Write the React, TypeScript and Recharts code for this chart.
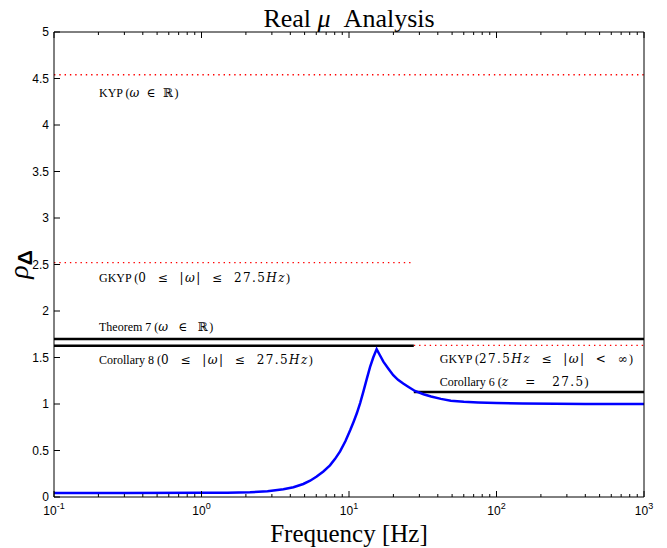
import React from 'react';
import { LineChart, Line, XAxis, YAxis, ReferenceLine } from 'recharts';

// blue curve: real mu upper bound vs frequency
const freqHz = [0.1, 0.3, 1, 1.5, 2.13, 2.8, 3.59, 4.2, 4.9, 5.45, 6.04, 6.7, 7.43, 8.05, 8.7, 9.45, 10.2, 10.75, 11.3, 11.9, 12.5, 13.2, 13.9, 14.6, 15.4, 16, 17.1, 18.5, 19.95, 21.5, 23.3, 25.5, 28, 32, 36, 42, 49, 60, 75, 100, 150, 250, 400, 1000];
const rhoDelta = [0.042, 0.043, 0.045, 0.047, 0.051, 0.062, 0.083, 0.105, 0.14, 0.175, 0.22, 0.275, 0.34, 0.41, 0.49, 0.6, 0.72, 0.81, 0.9, 1.01, 1.13, 1.27, 1.4, 1.5, 1.59, 1.54, 1.455, 1.38, 1.31, 1.26, 1.22, 1.18, 1.14, 1.105, 1.08, 1.055, 1.035, 1.024, 1.016, 1.01, 1.006, 1.003, 1.001, 1.0];

// bound levels
const kypLevel = 4.54;
const gkypLowLevel = 2.52;
const theorem7Level = 1.7;
const corollary8Level = 1.627;
const gkypHighLevel = 1.63;
const corollary6Level = 1.13;
const splitHz = 27.5;
const fMin = 0.1;
const fMax = 1000;

const xMajorTicks = [0.1, 1, 10, 100, 1000];
const xAllTicks = [
  0.1, 0.2, 0.3, 0.4, 0.5, 0.6, 0.7, 0.8, 0.9,
  1, 2, 3, 4, 5, 6, 7, 8, 9,
  10, 20, 30, 40, 50, 60, 70, 80, 90,
  100, 200, 300, 400, 500, 600, 700, 800, 900,
  1000,
];
const yTicks = [0, 0.5, 1, 1.5, 2, 2.5, 3, 3.5, 4, 4.5, 5];

const tableData = freqHz.map((f, i) => ({ f, rho: rhoDelta[i] }));

const SANS = '"Liberation Sans", Arial, sans-serif';
const SERIF = '"Liberation Serif", "Times New Roman", serif';
const MATH = '"DejaVu Serif", serif';

const isMajor = (v: number) => xMajorTicks.some((m) => Math.abs(m - v) < 1e-9);

const BottomTick = ({ x, y, payload }: any) => {
  const major = isMajor(payload.value);
  const exp = Math.round(Math.log10(payload.value));
  return (
    <g>
      <line x1={x} x2={x} y1={y} y2={y - (major ? 6 : 3)} stroke="#000" />
      {major && (
        <text x={x} y={y + 18} textAnchor="middle" fontSize={12} fontFamily={SANS} fill="#000">
          10<tspan dy={-6} fontSize={9}>{exp}</tspan>
        </text>
      )}
    </g>
  );
};

const TopTick = ({ x, y, payload }: any) => {
  const major = isMajor(payload.value);
  return <line x1={x} x2={x} y1={y} y2={y + (major ? 6 : 3)} stroke="#000" />;
};

const LeftTick = ({ x, y, payload }: any) => (
  <g>
    <line x1={x} x2={x + 6} y1={y} y2={y} stroke="#000" />
    <text x={x - 5} y={y + 4} textAnchor="end" fontSize={12} fontFamily={SANS} fill="#000">
      {String(payload.value)}
    </text>
  </g>
);

const RightTick = ({ x, y }: any) => <line x1={x} x2={x - 6} y1={y} y2={y} stroke="#000" />;

const note = (dx: number, dy: number, content: React.ReactNode) => (props: any) => {
  const vb = props.viewBox || { x: 0, y: 0 };
  return (
    <text x={vb.x + dx} y={vb.y + dy} fontSize={12} fontFamily={SERIF} fill="#000" style={{ whiteSpace: 'pre' }}>
      {content}
    </text>
  );
};

const it = (s: string) => <tspan fontStyle="italic">{s}</tspan>;
// math-mode pieces, wider like the TeX math font
const m = (s: string) => <tspan fontFamily={MATH} fontSize={12} letterSpacing={1.4}>{s}</tspan>;
const mi = (s: string) => <tspan fontFamily={MATH} fontSize={12} letterSpacing={1.4} fontStyle="italic">{s}</tspan>;

const TitleLabel = (props: any) => {
  const { x, width } = props.viewBox;
  return (
    <text x={x + width / 2} y={27} textAnchor="middle" fontSize={26} fontFamily={SERIF} fill="#000" style={{ whiteSpace: 'pre' }}>
      Real {it('μ')}  Analysis
    </text>
  );
};

const XLabel = (props: any) => {
  const { x, y, width } = props.viewBox;
  return (
    <text x={x + width / 2} y={y + 45} textAnchor="middle" fontSize={25} fontFamily={SERIF} fill="#000">
      Frequency [Hz]
    </text>
  );
};

const YLabel = (props: any) => {
  const { y, height } = props.viewBox;
  const cy = y + height / 2;
  return (
    <text transform={`translate(28, ${cy}) rotate(-90)`} x={0} y={0} textAnchor="middle" fill="#000">
      <tspan fontStyle="italic" fontSize={28} fontFamily={SERIF}>ρ</tspan>
      <tspan dy={4} fontSize={21} fontWeight="bold" fontFamily={SANS}>Δ</tspan>
    </text>
  );
};

const dotted = { stroke: '#ff0000', strokeWidth: 1.4, strokeDasharray: '1.4 3.9' };
const solid = { stroke: '#000', strokeWidth: 2.5 };

export default function App() {
  return (
    <div style={{ position: 'absolute', left: 0, top: 0, background: '#fff' }}>
      <LineChart width={667} height={548} data={tableData} margin={{ top: 0, right: 0, bottom: 0, left: 0 }}>
        <XAxis
          dataKey="f"
          type="number"
          scale="log"
          domain={[fMin, fMax]}
          allowDataOverflow
          ticks={xAllTicks}
          interval={0}
          height={51}
          tickSize={0}
          tickMargin={0}
          tickLine={false}
          axisLine={{ stroke: '#000' }}
          tick={<BottomTick />}
          label={XLabel}
        />
        <XAxis
          xAxisId="top"
          orientation="top"
          dataKey="f"
          type="number"
          scale="log"
          domain={[fMin, fMax]}
          allowDataOverflow
          ticks={xAllTicks}
          interval={0}
          height={32}
          tickSize={0}
          tickMargin={0}
          tickLine={false}
          axisLine={{ stroke: '#000' }}
          tick={<TopTick />}
          label={TitleLabel}
        />
        <YAxis
          type="number"
          domain={[0, 5]}
          ticks={yTicks}
          interval={0}
          width={54}
          tickSize={0}
          tickMargin={0}
          tickLine={false}
          axisLine={{ stroke: '#000' }}
          tick={<LeftTick />}
          label={YLabel}
        />
        <YAxis
          yAxisId="right"
          orientation="right"
          type="number"
          domain={[0, 5]}
          ticks={yTicks}
          interval={0}
          width={23}
          tickSize={0}
          tickMargin={0}
          tickLine={false}
          axisLine={{ stroke: '#000' }}
          tick={<RightTick />}
        />

        <ReferenceLine y={kypLevel} {...dotted} label={note(45, 22, <>KYP ({mi('ω')}  {m('∈')}  {m('ℝ')})</>)} />
        <ReferenceLine
          segment={[{ x: fMin, y: gkypLowLevel }, { x: splitHz, y: gkypLowLevel }]}
          {...dotted}
          label={note(45, 19, <>GKYP ({m('0  ≤  |')}{mi('ω')}{m('|  ≤  27.5')}{mi('Hz')})</>)}
        />
        <ReferenceLine
          segment={[{ x: splitHz, y: gkypHighLevel }, { x: fMax, y: gkypHighLevel }]}
          {...dotted}
          label={note(26, 18, <>GKYP ({m('27.5')}{mi('Hz')}{m('  ≤  |')}{mi('ω')}{m('|  <  ∞')})</>)}
        />
        <ReferenceLine y={theorem7Level} {...solid} label={note(45, -8, <>Theorem 7 ({mi('ω')}   {m('∈')}   {m('ℝ')})</>)} />
        <ReferenceLine
          segment={[{ x: fMin, y: corollary8Level }, { x: splitHz, y: corollary8Level }]}
          {...solid}
          label={note(45, 18, <>Corollary 8 ({m('0  ≤  |')}{mi('ω')}{m('|  ≤  27.5')}{mi('Hz')})</>)}
        />
        <ReferenceLine
          segment={[{ x: splitHz, y: corollary6Level }, { x: fMax, y: corollary6Level }]}
          {...solid}
          label={note(26, -6, <>Corollary 6 ({mi('z')}{m('   =   27.5')})</>)}
        />

        <Line
          type="linear"
          dataKey="rho"
          stroke="#0000ff"
          strokeWidth={2.5}
          dot={false}
          activeDot={false}
          isAnimationActive={false}
        />
      </LineChart>
    </div>
  );
}
